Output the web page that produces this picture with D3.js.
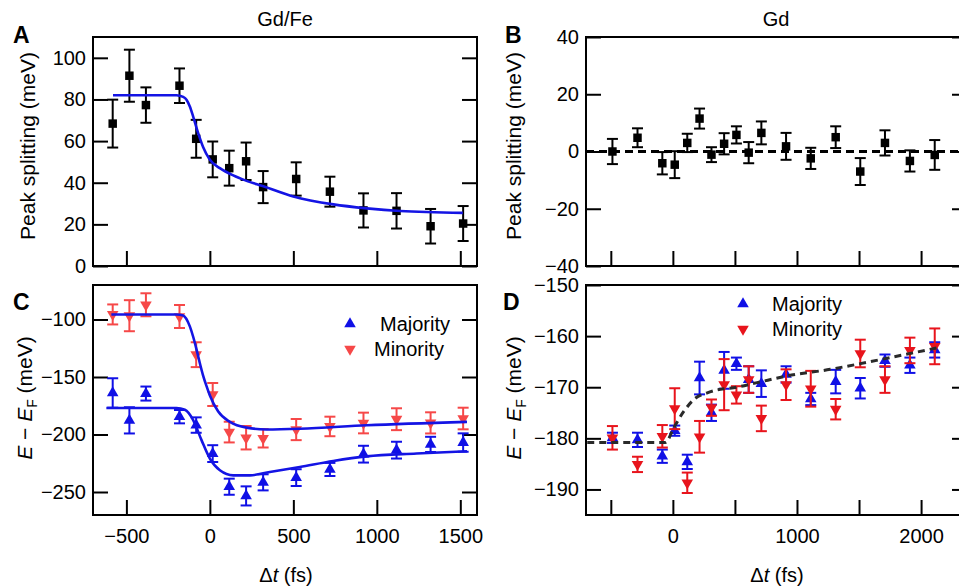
<!DOCTYPE html>
<html>
<head>
<meta charset="utf-8">
<script src="https://cdn.jsdelivr.net/npm/d3@7"></script>
<style>
    body { margin: 0; background: #fff; }
    svg text { font-family: "Liberation Sans", Arial, Helvetica, sans-serif; fill: #000; }
    .axis line { stroke: #000; stroke-width: 2; }
    .axis path.domain { display: none; }
    .axis text { font-size: 20px; }
</style>
</head>
<body>
<div id="fig"></div>
<script>

// ---- values ----

// pump-probe delays (fs)
var delaysFe = [-582, -482, -383, -182, -82, 17, 116, 217, 319, 517, 719, 920, 1118, 1322, 1517];
var delaysGd = [-487, -285, -85, 15, 116, 215, 311, 413, 512, 611, 713, 912, 1111, 1312, 1510, 1709, 1910, 2110];

// A: Gd/Fe peak splitting (meV)
var splitFe    = [68.4, 91.4, 77.3, 86.6, 61.1, 51.2, 47.0, 50.3, 37.9, 41.8, 35.7, 26.7, 26.5, 19.1, 20.4];
var splitFeErr = [11.5, 12.5, 8.5, 8.3, 9.1, 8.6, 8.4, 9.0, 7.7, 8.0, 7.2, 8.2, 8.5, 8.3, 8.4];
var fitFe = [[-580, 82], [-200, 82], [-160, 81.2], [-140, 79.9], [-120, 76.6], [-100, 71.8], [-70, 63.8],
             [-40, 57], [0, 51], [60, 47], [140, 43.5], [216, 41], [320, 38.3], [500, 33.4], [740, 29.6],
             [940, 27.7], [1140, 26.4], [1515, 25.5]];

// B: Gd peak splitting (meV)
var splitGd    = [0, 4.8, -4.1, -4.6, 3.0, 11.5, -1.1, 2.7, 5.8, -0.4, 6.5, 1.8, -2.4, 5.0, -7.0, 3.0, -3.3, -1.2];
var splitGdErr = [4.4, 3.3, 3.9, 4.7, 3.2, 3.5, 2.6, 3.7, 3.0, 3.7, 4.0, 4.7, 3.7, 3.8, 4.7, 4.4, 3.7, 5.2];
var zeroLine = [[-700, 0], [2370, 0]];

// C: Gd/Fe band positions E - EF (meV)
var majFe    = [-163.9, -187.7, -164.4, -184.5, -191.8, -216.6, -245.4, -253.4, -241.6, -237.5, -230.4, -217.1, -213.6, -208.6, -207.0];
var majFeErr = [12.8, 11.4, 6.1, 5.8, 6.7, 7.3, 7.0, 8.3, 7.0, 7.3, 5.7, 7.3, 7.3, 6.6, 8.0];
var minFe    = [-95.6, -96.7, -87.2, -97.4, -130.6, -165.2, -197.9, -202.8, -203.3, -195.7, -193.0, -190.0, -186.7, -189.9, -186.1];
var minFeErr = [8.7, 13.5, 10.0, 10.0, 10.8, 10.0, 9.0, 10.2, 8.0, 9.2, 8.5, 9.0, 9.5, 9.2, 9.4];
var fitMajFe = [[-620, -177], [-200, -177], [-150, -178.5], [-100, -187.4], [-50, -204.9], [0, -220.9],
                [60, -231.1], [140, -235.5], [240, -235.5], [359, -232.6], [539, -228.2], [739, -223],
                [938, -219], [1238, -216.5], [1540, -214.5]];
var fitMinFe = [[-590, -95.6], [-200, -95.6], [-160, -96.5], [-120, -106], [-100, -115], [-80, -126],
                [-60, -138], [-40, -149], [-20, -158], [0, -166], [50, -180], [120, -189], [220, -194],
                [340, -195.6], [540, -195], [940, -192], [1540, -189]];

// D: Gd band positions E - EF (meV)
var majGd    = [-179.9, -180.3, -183.5, -178.5, -184.6, -168.2, -175.0, -166.7, -165.4, -168.5, -169.3, -167.5, -172.3, -168.9, -170.2, -164.8, -165.7, -162.7];
var majGdErr = [1.0, 1.4, 1.3, 1.0, 1.4, 3.2, 1.6, 3.6, 1.2, 2.6, 2.6, 1.6, 1.2, 2.3, 2.0, 1.2, 1.5, 1.5];
var minGd    = [-179.9, -185.1, -179.6, -174.2, -188.7, -179.7, -174.0, -169.5, -171.5, -168.5, -176.1, -169.5, -170.3, -174.3, -163.4, -168.5, -162.8, -162.0];
var minGdErr = [2.3, 1.5, 2.2, 4.0, 2.0, 3.1, 1.6, 5.0, 1.7, 2.6, 2.5, 3.0, 3.5, 2.0, 2.7, 2.6, 2.5, 3.5];
var fitGd = [[-690, -180.8], [-60, -180.8], [8, -177.9], [89, -174.7], [169, -172.4], [277, -171.1],
             [384, -170.4], [491, -170.1], [679, -169.1], [920, -167.8], [1269, -166.5], [1671, -164.6],
             [2127, -162.3]];

// tick values
var ticksFeX = [-500, 0, 500, 1000, 1500];
var ticksGdX = [-500, 0, 500, 1000, 1500, 2000];
var labelsGdX = [0, 1000, 2000];   // only these carry a number in D
var ticksA = [0, 20, 40, 60, 80, 100];
var ticksB = [-40, -20, 0, 20, 40];
var ticksC = [-250, -200, -150, -100];
var ticksD = [-190, -180, -170, -160, -150];

var legendLabels = ["Majority", "Minority"];

var blue = "#1010e6", redC = "#f64848", redD = "#e8141c", fitBlue = "#1414e4";

var svg = d3.select("#fig").append("svg")
    .attr("width", 959)
    .attr("height", 586);

/*
 * One framed panel with inward ticks on left, right and bottom
 */
Panel = function(opt){
    var vis = this;
    vis.opt = opt;
    vis.x = d3.scaleLinear().domain(opt.xDomain).range([0, opt.w]);
    vis.y = d3.scaleLinear().domain(opt.yDomain).range([opt.h, 0]);

    vis.g = svg.append("g")
        .attr("transform", "translate(" + opt.left + "," + opt.top + ")");

    vis.g.append("g")
        .attr("class", "axis")
        .call(d3.axisLeft(vis.y).tickValues(opt.yTicks).tickSize(-15).tickPadding(7).tickFormat(d3.format("d")));

    vis.g.append("g")
        .attr("class", "axis")
        .attr("transform", "translate(" + opt.w + ",0)")
        .call(d3.axisRight(vis.y).tickValues(opt.yTicks).tickSize(-15).tickFormat(""));

    var fmt = d3.format("d");
    vis.g.append("g")
        .attr("class", "axis")
        .attr("transform", "translate(0," + opt.h + ")")
        .call(d3.axisBottom(vis.x).tickValues(opt.xTicks).tickSize(-15).tickPadding(14)
            .tickFormat(function(d) {
                if (!opt.xLabels) return "";
                return opt.xLabels === true || opt.xLabels.indexOf(d) >= 0 ? fmt(d) : "";
            }));

    vis.g.append("rect")
        .attr("width", opt.w)
        .attr("height", opt.h)
        .attr("fill", "none")
        .attr("stroke", "#000")
        .attr("stroke-width", 2);

    // panel letter
    svg.append("text")
        .attr("x", opt.letterX)
        .attr("y", opt.letterY)
        .style("font-size", "23px")
        .style("font-weight", "bold")
        .text(opt.letter);
}

Panel.prototype.fit = function(pts, color, dash){
    var vis = this;
    var line = d3.line()
        .x(function(d) { return vis.x(d[0]); })
        .y(function(d) { return vis.y(d[1]); })
        .curve(d3.curveMonotoneX);
    vis.g.append("path")
        .datum(pts)
        .attr("fill", "none")
        .attr("stroke", color)
        .attr("stroke-width", dash ? 3 : 2.6)
        .attr("stroke-dasharray", dash ? dash : null)
        .attr("d", line);
}

Panel.prototype.points = function(ts, vals, errs, color, shape){
    var vis = this;
    var data = ts.map(function(t, i) { return {t: t, v: vals[i], e: errs[i]}; });
    var grp = vis.g.append("g");
    var cap = 5.5;

    var bars = grp.selectAll(".err").data(data).enter().append("g")
        .attr("stroke", color)
        .attr("stroke-width", 2);
    bars.append("line")
        .attr("x1", function(d) { return vis.x(d.t); })
        .attr("x2", function(d) { return vis.x(d.t); })
        .attr("y1", function(d) { return vis.y(d.v + d.e); })
        .attr("y2", function(d) { return vis.y(d.v - d.e); });
    bars.append("line")
        .attr("x1", function(d) { return vis.x(d.t) - cap; })
        .attr("x2", function(d) { return vis.x(d.t) + cap; })
        .attr("y1", function(d) { return vis.y(d.v + d.e); })
        .attr("y2", function(d) { return vis.y(d.v + d.e); });
    bars.append("line")
        .attr("x1", function(d) { return vis.x(d.t) - cap; })
        .attr("x2", function(d) { return vis.x(d.t) + cap; })
        .attr("y1", function(d) { return vis.y(d.v - d.e); })
        .attr("y2", function(d) { return vis.y(d.v - d.e); });

    var sym = shape == "square" ? d3.symbol().type(d3.symbolSquare).size(72)
                                : d3.symbol().type(d3.symbolTriangle).size(58);
    grp.selectAll(".mark").data(data).enter().append("path")
        .attr("d", sym)
        .attr("fill", color)
        .attr("transform", function(d) {
            return "translate(" + vis.x(d.t) + "," + vis.y(d.v) + ")" + (shape == "down" ? " rotate(180)" : "");
        });
}

Panel.prototype.legend = function(x, y, tx, colors){
    var sym = d3.symbol().type(d3.symbolTriangle).size(58);
    legendLabels.forEach(function(lab, i) {
        svg.append("path")
            .attr("d", sym)
            .attr("fill", colors[i])
            .attr("transform", "translate(" + x + "," + (y + i * 25) + ")" + (i == 1 ? " rotate(180)" : ""));
        svg.append("text")
            .attr("x", tx[i])
            .attr("y", y + i * 25 + 7)
            .style("font-size", "20px")
            .text(lab);
    });
}

function yLabel(x, y, parts){
    var t = svg.append("text")
        .attr("transform", "translate(" + x + "," + y + ") rotate(-90)")
        .attr("text-anchor", "middle")
        .style("font-size", "21px");
    parts.forEach(function(p) {
        var s = t.append("tspan").text(p.s);
        if (p.italic) s.style("font-style", "italic");
        if (p.sub) s.style("font-size", "14px").attr("dy", 5);
        if (p.after) s.attr("dy", -5);
    });
}

function xLabel(x, y){
    var t = svg.append("text")
        .attr("x", x)
        .attr("y", y)
        .attr("text-anchor", "middle")
        .style("font-size", "20px");
    t.append("tspan").text("\u0394");
    t.append("tspan").style("font-style", "italic").text("t");
    t.append("tspan").text(" (fs)");
}

// ---- panels ----
var A = new Panel({left: 93, top: 37, w: 384, h: 229, xDomain: [-700, 1600], yDomain: [0, 110],
    xTicks: ticksFeX, yTicks: ticksA, xLabels: false, letter: "A", letterX: 13, letterY: 43});
var B = new Panel({left: 586, top: 37, w: 381, h: 229, xDomain: [-700, 2370], yDomain: [-40, 40],
    xTicks: ticksGdX, yTicks: ticksB, xLabels: false, letter: "B", letterX: 505, letterY: 43});
var C = new Panel({left: 93, top: 285, w: 384, h: 230, xDomain: [-700, 1600], yDomain: [-270, -70],
    xTicks: ticksFeX, yTicks: ticksC, xLabels: true, letter: "C", letterX: 13, letterY: 310});
var D = new Panel({left: 586, top: 285, w: 381, h: 230, xDomain: [-700, 2370], yDomain: [-195, -150],
    xTicks: ticksGdX, yTicks: ticksD, xLabels: labelsGdX, letter: "D", letterX: 503, letterY: 310});

A.points(delaysFe, splitFe, splitFeErr, "#000", "square");
A.fit(fitFe, fitBlue);

B.fit(zeroLine, "#000", "8,5");
B.points(delaysGd, splitGd, splitGdErr, "#000", "square");

C.points(delaysFe, minFe, minFeErr, redC, "down");
C.points(delaysFe, majFe, majFeErr, blue, "up");
C.fit(fitMinFe, fitBlue);
C.fit(fitMajFe, fitBlue);
C.legend(350, 324, [380, 374], [blue, redC]);

D.points(delaysGd, majGd, majGdErr, blue, "up");
D.points(delaysGd, minGd, minGdErr, redD, "down");
D.fit(fitGd, "#2a2a2a", "7,5");
D.legend(743, 304, [772, 772], [blue, redD]);

// titles and axis labels
svg.append("text").attr("x", 285).attr("y", 26).attr("text-anchor", "middle").style("font-size", "20px").text("Gd/Fe");
svg.append("text").attr("x", 776).attr("y", 26).attr("text-anchor", "middle").style("font-size", "20px").text("Gd");

yLabel(35, 146, [{s: "Peak splitting (meV)"}]);
yLabel(521, 146, [{s: "Peak splitting (meV)"}]);
yLabel(32, 398, [{s: "E", italic: true}, {s: " \u2212 "}, {s: "E", italic: true},
                 {s: "F", sub: true}, {s: " (meV)", after: true}]);
yLabel(521, 398, [{s: "E", italic: true}, {s: " \u2212 "}, {s: "E", italic: true},
                  {s: "F", sub: true}, {s: " (meV)", after: true}]);

xLabel(286, 582);
xLabel(777, 582);

</script>
</body>
</html>
